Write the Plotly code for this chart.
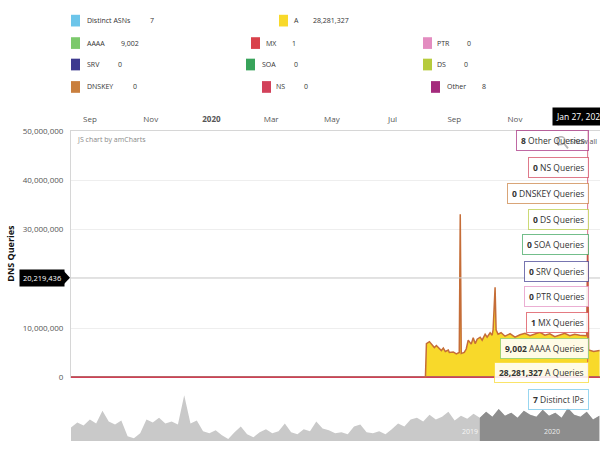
import pandas as pd
import plotly.graph_objects as go

W, H = 600, 449


def px(x):
    return x / W


def py(y):
    return 1 - y / H


# ---------------- data ----------------
# Daily A-record queries
a_dates = [
    "2019-08-26", "2020-08-17", "2020-08-18", "2020-08-21", "2020-08-23", "2020-08-26",
    "2020-08-28", "2020-08-31", "2020-09-02", "2020-09-04", "2020-09-06", "2020-09-09",
    "2020-09-10", "2020-09-14", "2020-09-17", "2020-09-20", "2020-09-21", "2020-09-22",
    "2020-09-25", "2020-09-27", "2020-09-29", "2020-10-02", "2020-10-04", "2020-10-06",
    "2020-10-08", "2020-10-11", "2020-10-13", "2020-10-16", "2020-10-18", "2020-10-21",
    "2020-10-23", "2020-10-24", "2020-10-26", "2020-10-27", "2020-10-29", "2020-11-01",
    "2020-11-05", "2020-11-10", "2020-11-15", "2020-11-20", "2020-11-25", "2020-11-30",
    "2020-12-05", "2020-12-10", "2020-12-15", "2020-12-20", "2020-12-25", "2020-12-30",
    "2021-01-04", "2021-01-09", "2021-01-14", "2021-01-19", "2021-01-26", "2021-01-27",
    "2021-01-28", "2021-02-02", "2021-02-08",
]
a_queries = [
    0, 0, 6_900_000, 7_300_000, 6_800_000, 6_100_000,
    6_500_000, 5_800_000, 5_500_000, 6_000_000, 5_300_000, 5_600_000,
    5_100_000, 5_200_000, 4_800_000, 5_100_000, 33_100_000, 4_900_000,
    5_100_000, 5_800_000, 7_600_000, 6_800_000, 8_100_000, 6_900_000,
    7_800_000, 8_200_000, 7_600_000, 8_800_000, 8_200_000, 9_100_000,
    8_600_000, 9_700_000, 18_300_000, 9_700_000, 8_800_000, 9_100_000,
    8_400_000, 8_900_000, 8_200_000, 8_700_000, 9_000_000, 8_500_000,
    8_800_000, 9_200_000, 8_600_000, 8_900_000, 8_300_000, 8_700_000,
    9_000_000, 8_500_000, 8_800_000, 8_600_000, 8_500_000, 28_281_327,
    5_600_000, 5_300_000, 5_500_000,
]

# Values under the cursor
cursor_date = "2021-01-27"
cursor_y = 20_219_436

series_names = ["Distinct ASNs", "A", "AAAA", "MX", "PTR", "SRV", "SOA", "DS", "DNSKEY", "NS", "Other"]
series_values = [7, 28_281_327, 9_002, 1, 0, 0, 0, 0, 0, 0, 8]
series_colors = ["#6cc5ea", "#f8d92a", "#7cc96c", "#d9414b", "#e38cc0", "#3d3a8f",
                 "#38a35a", "#b6cb3c", "#c97f3e", "#d2415a", "#a42a7c"]
tooltip_labels = {"Distinct ASNs": "Distinct IPs"}

# Scrollbar overview volume, every four weeks
overview_start = "2014-08-22"
overview_volume = [
    14, 19, 16, 22, 18, 31, 20, 17, 21, 5, 3, 8, 22, 19, 24, 18, 20, 17, 47, 18, 21,
    10, 8, 11, 6, 2, 9, 15, 7, 4, 9, 12, 8, 10, 18, 9, 7, 12, 10, 20, 13, 11, 8, 9,
    7, 15, 17, 9, 8, 10, 7, 12, 18, 15, 22, 24, 20, 27, 22, 25, 30, 21, 26, 23, 28,
    24, 30, 25, 33, 26, 29, 24, 31, 27, 25, 32, 26, 29, 24, 34, 27, 25, 30, 22, 26,
]

month_ticks = ["2019-09-15", "2019-11-15", "2020-01-15", "2020-03-15",
               "2020-05-15", "2020-07-15", "2020-09-15", "2020-11-15"]
month_labels = ["Sep", "Nov", "<b>2020</b>", "Mar", "May", "Jul", "Sep", "Nov"]
y_ticks = [0, 10_000_000, 20_000_000, 30_000_000, 40_000_000, 50_000_000]
scroll_year_ticks = ["2019-07-02", "2020-07-02"]
scroll_year_labels = ["2019", "2020"]

x_range = ["2019-08-26 21:50", "2021-02-08 09:36"]
scroll_range = ["2014-08-22", "2021-02-01"]

# ---------------- figure ----------------
color_of = dict(zip(series_names, series_colors))
value_of = dict(zip(series_names, series_values))

fig = go.Figure()

a_df = pd.DataFrame({"date": pd.to_datetime(a_dates), "q": a_queries})

# A fill
fig.add_trace(go.Scatter(
    x=a_df.date, y=a_df.q, mode="lines", line=dict(width=0, color=color_of["A"]),
    fill="tozeroy", fillcolor=color_of["A"], hoverinfo="skip", showlegend=False,
    xaxis="x", yaxis="y",
))

# The low-volume record types run along the baseline
for name in ["Distinct ASNs", "AAAA", "PTR", "SRV", "SOA", "DS", "DNSKEY", "Other", "MX", "NS"]:
    fig.add_trace(go.Scatter(
        x=[x_range[0], cursor_date, a_dates[-1]], y=[0, value_of[name], 0],
        mode="lines", line=dict(width=1.6, color=color_of[name]),
        hoverinfo="skip", showlegend=False, xaxis="x", yaxis="y",
    ))

# A outline once it becomes active
first_active = a_df.index[a_df.q > 0][0] - 1
act = a_df.iloc[first_active:]
fig.add_trace(go.Scatter(
    x=act.date, y=act.q, mode="lines", line=dict(width=1.5, color="#c56d38"),
    hoverinfo="skip", showlegend=False, xaxis="x", yaxis="y",
))

# Scrollbar preview
ov = pd.DataFrame({
    "date": pd.date_range(overview_start, periods=len(overview_volume), freq="28D"),
    "v": overview_volume,
})
fig.add_trace(go.Scatter(
    x=ov.date, y=ov.v, mode="lines", line=dict(width=0, color="#c9c9c9"),
    fill="tozeroy", fillcolor="#c9c9c9", hoverinfo="skip", showlegend=False,
    xaxis="x2", yaxis="y2",
))
sel = ov[ov.date >= pd.Timestamp(x_range[0]) - pd.Timedelta(days=28)]
fig.add_trace(go.Scatter(
    x=sel.date, y=sel.v, mode="lines", line=dict(width=0, color="#8d8d8d"),
    fill="tozeroy", fillcolor="#8d8d8d", hoverinfo="skip", showlegend=False,
    xaxis="x2", yaxis="y2",
))

shapes = []
annotations = []

# Cursor lines
shapes.append(dict(type="line", xref="paper", yref="y", x0=px(71), x1=1, y0=cursor_y, y1=cursor_y,
                   line=dict(color="#d0d0d0", width=1), layer="above"))
shapes.append(dict(type="line", xref="x", yref="y", x0=cursor_date, x1=cursor_date, y0=0, y1=50_000_000,
                   line=dict(color="rgba(205,60,95,0.75)", width=1), layer="above"))

# Legend block
legend_slots = {
    "Distinct ASNs": (71, 85, 148, 15), "A": (279, 292, 311, 15),
    "AAAA": (71, 85, 119, 38), "MX": (251, 264, 290, 38), "PTR": (423, 435, 465, 38),
    "SRV": (71, 85, 116, 60), "SOA": (246, 260, 292, 60), "DS": (423, 435, 462, 60),
    "DNSKEY": (71, 85, 131, 83), "NS": (262, 274, 302, 83), "Other": (431, 445, 480, 83),
}
legend_font = dict(family="Open Sans", size=7, color="#333")
for name in series_names:
    sx, tx, vx, ry = legend_slots[name]
    shapes.append(dict(type="rect", xref="paper", yref="paper",
                       x0=px(sx), x1=px(sx + 9), y0=py(ry + 6), y1=py(ry - 6),
                       fillcolor=color_of[name], line=dict(width=0)))
    annotations.append(dict(xref="paper", yref="paper", x=px(tx), y=py(ry), text=name,
                            xanchor="left", yanchor="middle", showarrow=False, font=legend_font))
    annotations.append(dict(xref="paper", yref="paper", x=px(vx), y=py(ry), text=f"{value_of[name]:,}",
                            xanchor="left", yanchor="middle", showarrow=False, font=legend_font))

# Series tooltips stacked at the cursor
tooltip_order = ["Other", "NS", "DNSKEY", "DS", "SOA", "SRV", "PTR", "MX", "AAAA", "A", "Distinct ASNs"]
tooltip_rows = [138, 166, 192, 219, 245, 272, 298, 324, 351, 376, 403]


def rgba(hex_color, alpha):
    h = hex_color.lstrip("#")
    r, g, b = int(h[0:2], 16), int(h[2:4], 16), int(h[4:6], 16)
    return f"rgba({r},{g},{b},{alpha})"


for name, row in zip(tooltip_order, tooltip_rows):
    label = tooltip_labels.get(name, f"{name} Queries")
    annotations.append(dict(
        xref="paper", yref="paper", x=px(589), y=py(row), xanchor="right", yanchor="middle",
        text=f"<b>{value_of[name]:,}</b> {label}", showarrow=False,
        font=dict(family="Open Sans", size=8.5, color="#333"),
        bgcolor="rgba(255,255,255,0.6)" if name == "Other" else "rgba(255,255,255,0.88)",
        bordercolor=rgba(color_of[name], 0.7), borderwidth=1, borderpad=4,
    ))

# Zoom-out button
shapes.append(dict(type="circle", xref="paper", yref="paper",
                   x0=px(557), x1=px(565), y0=py(142), y1=py(134),
                   line=dict(color="#444", width=1.5), layer="above"))
shapes.append(dict(type="line", xref="paper", yref="paper",
                   x0=px(564), x1=px(568), y0=py(141), y1=py(146),
                   line=dict(color="#444", width=1.8), layer="above"))
annotations.append(dict(xref="paper", yref="paper", x=px(568), y=py(139), xanchor="left",
                        yanchor="middle", text="Show all", showarrow=False,
                        font=dict(family="Open Sans", size=7, color="#555")))

# Date tooltip at the top axis
annotations.append(dict(
    xref="paper", yref="paper", x=px(552), y=py(113), xanchor="left", yanchor="middle",
    text=pd.Timestamp(cursor_date).strftime("%b %-d, %Y"), showarrow=False,
    font=dict(family="Open Sans", size=8.5, color="white"), bgcolor="black", borderpad=3,
))

# Value tooltip on the y axis
annotations.append(dict(
    xref="paper", yref="paper", x=px(65), y=py(278.5), xanchor="right", yanchor="middle",
    text=f"{cursor_y:,}", showarrow=False,
    font=dict(family="Open Sans", size=7.5, color="white"), bgcolor="black", borderpad=3,
))
shapes.append(dict(type="path", xref="paper", yref="paper",
                   path=f"M {px(64)},{py(272)} L {px(70)},{py(278.5)} L {px(64)},{py(285)} Z",
                   fillcolor="black", line=dict(width=0)))

# Axis title
annotations.append(dict(
    xref="paper", yref="paper", x=px(11), y=py(254), text="<b>DNS Queries</b>", textangle=-90,
    showarrow=False, xanchor="center", yanchor="middle",
    font=dict(family="Open Sans", size=9, color="#111"),
))

# Credit
annotations.append(dict(
    xref="paper", yref="paper", x=px(75), y=py(137), xanchor="left", yanchor="middle",
    text="JS chart by amCharts", showarrow=False,
    font=dict(family="Open Sans", size=7, color="#888"),
))

# Scrollbar year labels
for d, lab in zip(scroll_year_ticks, scroll_year_labels):
    annotations.append(dict(
        xref="x2", yref="paper", x=d, y=py(436.5), text=lab, showarrow=False,
        xanchor="center", yanchor="middle",
        font=dict(family="Open Sans", size=7, color="rgba(255,255,255,0.85)"),
    ))

fig.update_layout(
    width=W, height=H,
    margin=dict(l=0, r=0, t=0, b=0),
    paper_bgcolor="white", plot_bgcolor="white",
    font=dict(family="Open Sans"),
    showlegend=False,
    xaxis=dict(
        type="date", domain=[px(71), 1], range=x_range, side="top", anchor="y",
        tickvals=month_ticks, ticktext=month_labels, ticks="", ticklabelstandoff=5,
        tickfont=dict(size=8, color="#555"), showgrid=False,
        showline=True, linecolor="#d6d6d6", linewidth=1, zeroline=False,
    ),
    yaxis=dict(
        domain=[py(381), py(128)], range=[0, 50_000_000], anchor="x",
        tickvals=y_ticks, tickformat=",", ticks="", ticklabelstandoff=5,
        tickfont=dict(size=8, color="#555"),
        gridcolor="#eeeeee", gridwidth=1, showline=True, linecolor="#d6d6d6", zeroline=False,
    ),
    xaxis2=dict(type="date", domain=[px(71), 1], range=scroll_range, anchor="y2", visible=False),
    yaxis2=dict(domain=[py(446), py(393)], range=[0, 53], anchor="x2", visible=False),
    shapes=shapes,
    annotations=annotations,
)

fig.write_html("out.html")
